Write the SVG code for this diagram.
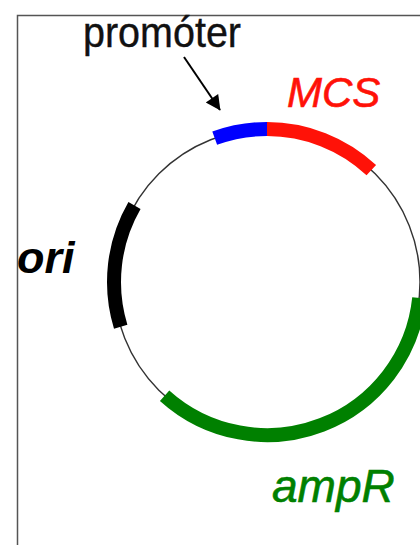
<svg xmlns="http://www.w3.org/2000/svg" width="420" height="545" viewBox="0 0 420 545">
<style>
.band{fill:none;stroke-width:14;stroke-linecap:butt}
.lbl{font-family:"Liberation Sans",Arial,sans-serif}
</style>
<defs>
<marker id="ah2" viewBox="0 0 10 10" refX="9.5" refY="5" markerWidth="18" markerHeight="15" orient="auto" markerUnits="userSpaceOnUse">
<path d="M0,0 L10,5 L0,10 z" fill="#000"/>
</marker>
</defs>
<rect width="420" height="545" fill="#fff"/>
<path d="M17.5,545 V15.5 H420" fill="none" stroke="#555" stroke-width="1.5"/>
<g id="backbone">
<circle cx="267" cy="282" r="153" fill="none" stroke="#333" stroke-width="1.4"/>
</g>
<g id="promoter">
<path class="band" d="M214.7,138.2 A153,153 0 0 1 267,129" stroke="#0000ff"/>
<text class="lbl" x="83" y="47" font-size="43" textLength="158" lengthAdjust="spacingAndGlyphs" fill="#111" stroke="#111" stroke-width="0.4">promóter</text>
</g>
<g id="mcs">
<path class="band" d="M267,129 A153,153 0 0 1 371.3,170.1" stroke="#ff1208"/>
<text class="lbl" x="287" y="107" font-size="42" font-style="italic" fill="#ff1208" stroke="#ff1208" stroke-width="0.6">MCS</text>
</g>
<g id="ampR">
<path class="band" d="M419.2,298 A153,153 0 0 1 164.6,395.7" stroke="#008000"/>
<text class="lbl" x="272" y="502" font-size="46" font-style="italic" fill="#008000" stroke="#008000" stroke-width="0.6">ampR</text>
</g>
<g id="ori">
<path class="band" d="M120.7,326.7 A153,153 0 0 1 134.5,205.5" stroke="#000"/>
<text class="lbl" x="17" y="273" font-size="45" font-style="italic" font-weight="bold" fill="#000">ori</text>
</g>
<g id="connectors">
<line x1="184" y1="57" x2="220" y2="110" stroke="#000" stroke-width="2" marker-end="url(#ah2)"/>
</g>
</svg>
